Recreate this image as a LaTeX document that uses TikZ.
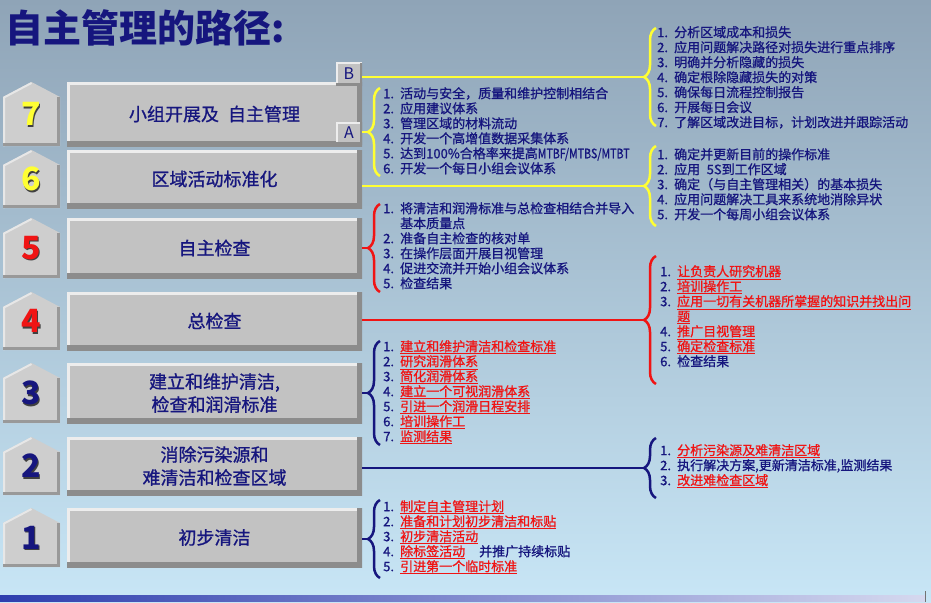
\documentclass[tikz,border=0pt]{standalone}
\usepackage{fontspec}
\setmainfont{Noto Sans CJK SC}
\newfontfamily\medcjk{Noto Sans CJK SC}[FakeBold=1]
\usetikzlibrary{decorations.pathreplacing}
\definecolor{tpmnavy}{HTML}{16167E}
\definecolor{tpmred}{HTML}{F01414}
\definecolor{tpmyellow}{HTML}{FFFF33}
\definecolor{tpmgrey}{HTML}{C2C2C2}
\definecolor{tpmtop}{HTML}{8FA4B7}
\definecolor{tpmbot}{HTML}{C8E6F6}
\definecolor{tpmbar}{HTML}{2E3EAE}
\newcommand{\itemno}[1]{\makebox[17pt][l]{#1}}
\newcommand{\redul}[1]{{\color{tpmred}\underline{#1}}}
\newcommand{\lstfont}{\medcjk\fontsize{13}{15}\selectfont\lineskiplimit=-8pt\relax}
\tikzset{
  box/.style={rectangle, fill=tpmgrey, minimum width=295pt, inner sep=0pt, align=center,
              text=tpmnavy, font=\medcjk\fontsize{18}{23}\selectfont,
              path picture={
                \draw[line width=5pt, white!70!tpmgrey] (path picture bounding box.south west)
                  -- (path picture bounding box.north west) -- (path picture bounding box.north east);
                \draw[line width=10pt, black!45] (path picture bounding box.north east)
                  -- (path picture bounding box.south east) -- (path picture bounding box.south west);}},
  letbox/.style={box, minimum width=26pt, minimum height=22pt, font=\fontsize{16}{16}\selectfont,
              path picture={
                \draw[line width=3pt, white!70!tpmgrey] (path picture bounding box.south west)
                  -- (path picture bounding box.north west) -- (path picture bounding box.north east);
                \draw[line width=5pt, black!45] (path picture bounding box.north east)
                  -- (path picture bounding box.south east) -- (path picture bounding box.south west);}},
  tagnum/.style={inner sep=0pt, font=\fontsize{32}{32}\selectfont\bfseries},
  lst/.style={anchor=north west, inner sep=0pt, align=left, text=tpmnavy, font=\lstfont},
  yline/.style={line width=2.5pt, draw=tpmyellow},
  rline/.style={line width=2.5pt, draw=tpmred},
  nline/.style={line width=2.5pt, draw=tpmnavy},
  ybrace/.style={yline, decorate, decoration={brace, amplitude=12pt}},
  rbrace/.style={rline, decorate, decoration={brace, amplitude=12pt}},
  nbrace/.style={nline, decorate, decoration={brace, amplitude=12pt}},
}

\begin{document}
\begin{tikzpicture}[x=1pt, y=-1pt]
  \useasboundingbox (0,0) rectangle (931,602);
  % background
  \shade[top color=tpmtop, bottom color=tpmbot] (0,0) rectangle (931,602);
  \shade[left color=tpmbar, right color=tpmbar!20!white] (0,595) rectangle (925,601);
  \draw[black!55, line width=1pt] (925,591) -- (925,602);
  % title
  \node[anchor=west, inner sep=0pt, text=tpmnavy, font=\fontsize{38}{40}\selectfont\bfseries] (title) at (5,28) {自主管理的路径:};
  % steps 7..1
  \foreach \n/\t/\b/\c/\lab in {
      7/82/146/tpmyellow/{小组开展及\hspace{0.5em}自主管理},
      6/150/208/tpmyellow/区域活动标准化,
      5/218/278/tpmred/自主检查,
      4/292/350/tpmred/总检查,
      3/363/423/tpmnavy/{建立和维护清洁,\\检查和润滑标准},
      2/437/495/tpmnavy/{消除污染源和\\难清洁和检查区域},
      1/508/567/tpmnavy/初步清洁}{
    \pgfmathsetmacro\m{(\t+\b)/2}
    \pgfmathsetmacro\h{\b-\t}
    \fill[tpmgrey!80!white] (3,\t+15) -- (31.5,\t) -- (60,\t+15) -- (60,\b) -- (3,\b) -- cycle;
    \draw[white!60!tpmgrey, line width=2pt] (4,\b) -- (4,\t+15.5) -- (31.5,\t+1);
    \draw[black!40, line width=3pt] (58.5,\t+15) -- (58.5,\b-1.5) -- (3,\b-1.5);
    \node[tagnum, text=black!75] at (32.5,\m+1.5) {\n};
    \node[tagnum, text=\c] (tag\n) at (31,\m) {\n};
    \node[box, minimum height=\h pt] (box\n) at (214.5,\m) {\lab};
  }
  % A and B
  \node[letbox] (B) at (349,74) {B};
  \node[letbox] (A) at (349,133) {A};
  % connectors and braces
  \coordinate (tipB) at (644,77);
  \coordinate (tipA) at (368,132);
  \coordinate (tip6) at (644,186);
  \coordinate (tip5) at (368,248);
  \coordinate (tip4) at (644,320);
  \coordinate (tip3) at (368,393);
  \coordinate (tip2) at (644,468);
  \coordinate (tip1) at (368,539);
  \draw[yline] (B.east |- tipB) -- (tipB);
  \draw[yline] (A.east |- tipA) -- (tipA);
  \draw[yline] (box6.east |- tip6) -- (tip6);
  \draw[rline] (box5.east |- tip5) -- (tip5);
  \draw[rline] (box4.east |- tip4) -- (tip4);
  \draw[nline] (box3.east |- tip3) -- (tip3);
  \draw[nline] (box2.east |- tip2) -- (tip2);
  \draw[nline] (box1.east |- tip1) -- (tip1);
  \draw[ybrace] (656,126) -- (656,28);
  \draw[ybrace] (380,176) -- (380,88);
  \draw[ybrace] (656,226) -- (656,146);
  \draw[rbrace] (380,292) -- (380,204);
  \draw[rbrace] (656,384) -- (656,256);
  \draw[nbrace] (380,445) -- (380,341);
  \draw[nbrace] (656,498) -- (656,438);
  \draw[nbrace] (380,578) -- (380,500);
  % lists
  \node[lst] (listB) at (657,26) {\itemno{1.}分析区域成本和损失\\
    \itemno{2.}应用问题解决路径对损失进行重点排序\\
    \itemno{3.}明确并分析隐藏的损失\\
    \itemno{4.}确定根除隐藏损失的对策\\
    \itemno{5.}确保每日流程控制报告\\
    \itemno{6.}开展每日会议\\
    \itemno{7.}了解区域改进目标，计划改进并跟踪活动};
  \node[lst] (listA) at (383,87) {\itemno{1.}活动与安全，质量和维护控制相结合\\
    \itemno{2.}应用建议体系\\
    \itemno{3.}管理区域的材料流动\\
    \itemno{4.}开发一个高增值数据采集体系\\
    \itemno{5.}达到100\%合格率来提高\scalebox{0.82}[1]{MTBF/MTBS/MTBT}\\
    \itemno{6.}开发一个每日小组会议体系};
  \node[lst] (list6) at (657,148) {\itemno{1.}确定并更新目前的操作标准\\
    \itemno{2.}应用\hspace{0.5em}5S到工作区域\\
    \itemno{3.}确定（与自主管理相关）的基本损失\\
    \itemno{4.}应用问题解决工具来系统地消除异状\\
    \itemno{5.}开发一个每周小组会议体系};
  \node[lst] (list5) at (383,202) {\itemno{1.}将清洁和润滑标准与总检查相结合并导入\\
    \itemno{}基本质量点\\
    \itemno{2.}准备自主检查的核对单\\
    \itemno{3.}在操作层面开展目视管理\\
    \itemno{4.}促进交流并开始小组会议体系\\
    \itemno{5.}检查结果};
  \node[lst] (list4) at (660,265) {\itemno{1.}\redul{让负责人研究机器}\\
    \itemno{2.}\redul{培训操作工}\\
    \itemno{3.}\redul{应用一切有关机器所掌握的知识并找出问}\\
    \itemno{}\redul{题}\\
    \itemno{4.}\redul{推广目视管理}\\
    \itemno{5.}\redul{确定检查标准}\\
    \itemno{6.}检查结果};
  \node[lst] (list3) at (383,340) {\itemno{1.}\redul{建立和维护清洁和检查标准}\\
    \itemno{2.}\redul{研究润滑体系}\\
    \itemno{3.}\redul{简化润滑体系}\\
    \itemno{4.}\redul{建立一个可视润滑体系}\\
    \itemno{5.}\redul{引进一个润滑日程安排}\\
    \itemno{6.}\redul{培训操作工}\\
    \itemno{7.}\redul{监测结果}};
  \node[lst] (list2) at (660,444) {\itemno{1.}\redul{分析污染源及难清洁区域}\\
    \itemno{2.}执行解决方案,更新清洁标准,监测结果\\
    \itemno{3.}\redul{改进难检查区域}};
  \node[lst] (list1) at (383,500) {\itemno{1.}\redul{制定自主管理计划}\\
    \itemno{2.}\redul{准备和计划初步清洁和标贴}\\
    \itemno{3.}\redul{初步清洁活动}\\
    \itemno{4.}\redul{除标签活动}\hspace{14pt}并推广持续标贴\\
    \itemno{5.}\redul{引进第一个临时标准}};
\end{tikzpicture}
\end{document}
